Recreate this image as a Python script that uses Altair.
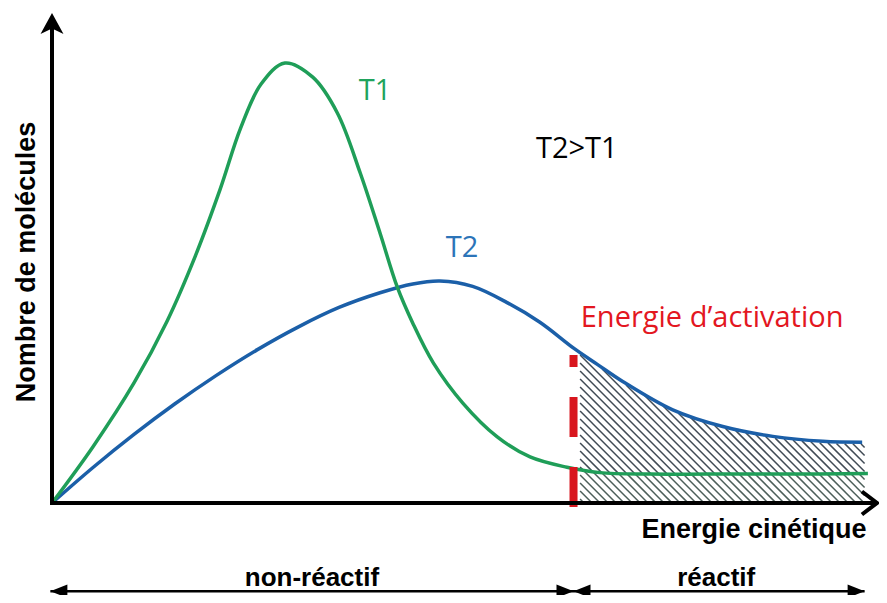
import altair as alt
import numpy as np
import pandas as pd

# ---------------- data (energy 0-100, molecule count 0-100) ----------------
t1_energy = [0, 5, 10, 14, 17.5, 20.5, 23, 25.5, 28.4, 31.8, 34.8, 37.6, 40.0,
             42.1, 44.0, 46.5, 50.1, 54.3, 58.3, 62.8, 66.8, 72.9, 79.9, 88.8, 99.5]
t1_count = [0, 11.5, 24.5, 37.0, 50.5, 64.0, 76.5, 85.5, 89.8, 86.9, 79.6, 67.3, 55.1,
            44.1, 36.7, 28.6, 20.4, 13.5, 9.4, 7.3, 6.2, 5.9, 5.9, 5.9, 6.0]
t2_energy = [0, 5, 10, 15, 20, 25, 30, 35, 40, 44, 47.3, 51.3, 55.5, 59.5, 63.7,
             66.5, 69.6, 75.7, 81.8, 87.9, 94.0, 98.8]
t2_count = [0, 7.25, 14.0, 20.25, 26.0, 31.25, 35.9, 39.9, 42.9, 44.7, 45.3, 44.2, 40.9, 36.9, 31.5,
            28.3, 24.8, 19.0, 15.6, 13.6, 12.6, 12.4]
activation_energy = 63.6
reactive_end = 99.1
ylabel = "Nombre de molécules"
xlabel = "Energie cinétique"
zone_labels = ["non-réactif", "réactif"]
curve_labels = ["T1", "T2"]
note_label = "T2>T1"
ea_label = "Energie d\u2019activation"

# ---------------- layout ----------------
W, H = 820, 490
XMAX, YMAX = 100.0, 100.0
GREEN, BLUE, RED = "#1f9e58", "#1b5fa8", "#e3171f"
xs = alt.Scale(domain=[0, XMAX], nice=False, zero=False)
ys = alt.Scale(domain=[0, YMAX], nice=False, zero=False)


def X(f):
    return alt.X(f, type="quantitative", scale=xs, axis=None)


def Y(f):
    return alt.Y(f, type="quantitative", scale=ys, axis=None)


# ---------------- hatching of the reactive region ----------------
k = (W / XMAX) / (H / YMAX)          # slope giving 45 degree lines on screen
hx0, hx1 = activation_energy + 0.8, reactive_end
grid = np.linspace(hx0, hx1, 800)
top = np.interp(grid, t2_energy, t2_count) - 0.3
low = np.interp(grid, t1_energy, t1_count)
step = 8.0 / (W / XMAX)
segs = []
c = hx0 + step * 0.5
cmax = hx1 + top.max() / k + step
while c < cmax:
    ylin = (c - grid) * k
    inside = (ylin >= 0) & (ylin <= top)
    for part, mask in (("up", inside & (ylin > low)), ("low", inside & (ylin <= low))):
        idx = np.where(mask)[0]
        if len(idx) >= 2:
            xa, xb = grid[idx[0]], grid[idx[-1]]
            segs.append({"e": xa, "n": (c - xa) * k, "e2": xb, "n2": (c - xb) * k, "part": part})
    c += step
hatch_df = pd.DataFrame(segs)

hatch = alt.Chart(hatch_df).mark_rule(strokeWidth=1.5).encode(
    x=X("e"), y=Y("n"), x2="e2", y2="n2",
    color=alt.Color("part:N", scale=alt.Scale(domain=["up", "low"], range=["#414b55", "#4d5f5a"]), legend=None),
)

# ---------------- curves ----------------
t1_df = pd.DataFrame({"e": t1_energy, "n": t1_count})
t2_df = pd.DataFrame({"e": t2_energy, "n": t2_count})
line_t1 = alt.Chart(t1_df).mark_line(color=GREEN, strokeWidth=3.5, interpolate="catmull-rom").encode(x=X("e"), y=Y("n"))
line_t2 = alt.Chart(t2_df).mark_line(color=BLUE, strokeWidth=3.5, interpolate="catmull-rom").encode(x=X("e"), y=Y("n"))

# ---------------- activation energy dashed line ----------------
ea_df = pd.DataFrame({"e": [activation_energy], "n": [-0.8], "n2": [30.2]})
ea_line = alt.Chart(ea_df).mark_rule(color="#d8161e", strokeWidth=8, strokeDash=[40, 30], strokeCap="butt").encode(
    x=X("e"), y=Y("n"), y2="n2")

# ---------------- axes with arrows ----------------
axes_df = pd.DataFrame({"e": [0, 0], "n": [0, 0], "e2": [0, 100.4], "n2": [98.5, 0]})
axes = alt.Chart(axes_df).mark_rule(color="black", strokeWidth=4, strokeCap="square").encode(
    x=X("e"), y=Y("n"), x2="e2", y2="n2")
yhead = alt.Chart(pd.DataFrame({"e": [0], "n": [100]})).mark_point(
    shape="M0,0L1.15,2.1L0,1.55L-1.15,2.1Z", size=400, filled=True, color="black", opacity=1, strokeWidth=0
).encode(x=X("e"), y=Y("n"))
xhead = alt.Chart(pd.DataFrame({"e": [100.6], "n": [0]})).mark_point(
    shape="M-1.5,-1.15L0,0L-1.5,1.15", size=400, filled=False, color="black", opacity=1, strokeWidth=4,
    strokeJoin="miter"
).encode(x=X("e"), y=Y("n"))

# ---------------- bottom range arrows ----------------
ZY = -18.0
range_df = pd.DataFrame({"e": [-0.2], "n": [ZY], "e2": [reactive_end]})
range_line = alt.Chart(range_df).mark_rule(color="black", strokeWidth=2.5).encode(x=X("e"), y=Y("n"), x2="e2")
left_pts = pd.DataFrame({"e": [-0.2, activation_energy], "n": [ZY, ZY]})
right_pts = pd.DataFrame({"e": [activation_energy, reactive_end], "n": [ZY, ZY]})
lh = alt.Chart(left_pts).mark_point(shape="M0,0L2,-0.8L2,0.8Z", size=289, filled=True, color="black",
                                    opacity=1, strokeWidth=0).encode(x=X("e"), y=Y("n"))
rh = alt.Chart(right_pts).mark_point(shape="M0,0L-2,-0.8L-2,0.8Z", size=289, filled=True, color="black",
                                     opacity=1, strokeWidth=0).encode(x=X("e"), y=Y("n"))

# ---------------- texts ----------------
BOLD = dict(font="Liberation Sans", fontWeight="bold", fontSize=27, color="black", baseline="alphabetic")
ytitle = alt.Chart(pd.DataFrame({"e": [-2.1], "n": [49.2], "t": [ylabel]})).mark_text(
    angle=270, align="center", **BOLD).encode(x=X("e"), y=Y("n"), text="t:N")
xtitle = alt.Chart(pd.DataFrame({"e": [85.6], "n": [-7.1], "t": [xlabel]})).mark_text(
    align="center", **BOLD).encode(x=X("e"), y=Y("n"), text="t:N")
zones = alt.Chart(pd.DataFrame({"e": [31.7, 81.0], "n": [-17.0, -17.0], "t": zone_labels})).mark_text(
    align="center", font="Liberation Sans", fontWeight="bold", fontSize=26, color="black", baseline="alphabetic"
).encode(x=X("e"), y=Y("n"), text="t:N")

REG = dict(font="Open Sans", fontSize=29, baseline="alphabetic", align="center")
t1_txt = alt.Chart(pd.DataFrame({"e": [39.4], "n": [82.2], "t": [curve_labels[0]]})).mark_text(
    color="#20a35c", **REG).encode(x=X("e"), y=Y("n"), text="t:N")
t2_txt = alt.Chart(pd.DataFrame({"e": [50.0], "n": [50.2], "t": [curve_labels[1]]})).mark_text(
    color="#2c74b8", **REG).encode(x=X("e"), y=Y("n"), text="t:N")
note_txt = alt.Chart(pd.DataFrame({"e": [64.0], "n": [70.4], "t": [note_label]})).mark_text(
    color="black", **REG).encode(x=X("e"), y=Y("n"), text="t:N")
ea_txt = alt.Chart(pd.DataFrame({"e": [80.5], "n": [35.9], "t": [ea_label]})).mark_text(
    color=RED, **REG).encode(x=X("e"), y=Y("n"), text="t:N")

chart = alt.layer(
    hatch, line_t2, line_t1, ea_line, axes, yhead, xhead, range_line, lh, rh,
    ytitle, xtitle, zones, t1_txt, t2_txt, note_txt, ea_txt
).properties(
    width=W, height=H,
    padding={"left": 44, "top": 5, "right": 7, "bottom": 92},
    autosize=alt.AutoSizeParams(type="none"),
    background="white",
).configure_view(strokeWidth=0)

chart.save("out.html", embed_options={"renderer": "svg", "actions": False})
